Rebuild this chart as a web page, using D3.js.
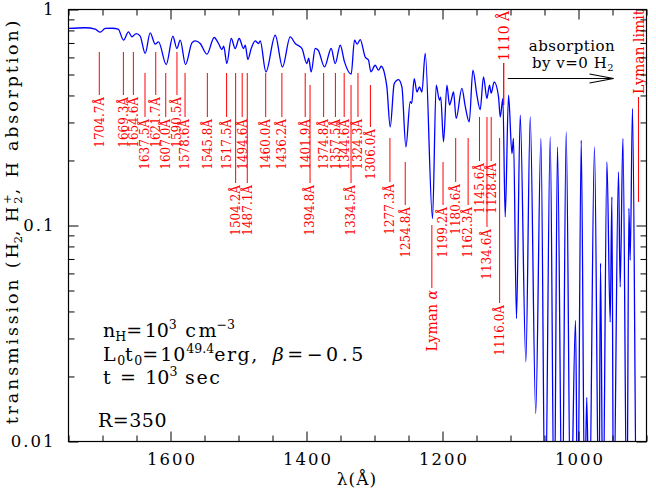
<!DOCTYPE html>
<html><head><meta charset="utf-8">
<script src="https://cdn.jsdelivr.net/npm/d3@7"></script>
<style>body{margin:0;background:#fff}svg{display:block}</style>
</head><body>
<svg id="chart" width="656" height="491"></svg>
<script>
// ---------------- data ----------------
const wavelengths = [1750,1725.4,1710.7,1703.4,1696,1685.7,1676.9,1669.1,1661.8,1656.8,1650.4,1644.6,1637.2,1629.9,1622.5,1617.6,1606.3,1596.5,1590.6,1585.7,1577.9,1568.5,1563.7,1556.3,1546.5,1535.7,1529.4,1524.4,1521.8,1517.1,1510.7,1504.9,1499,1492.6,1490.1,1486.2,1481.3,1475.4,1470.6,1468.1,1459.7,1446,1435.3,1424,1416.6,1406.8,1399.4,1396.8,1393.1,1387.2,1382.8,1373.5,1363.7,1357.8,1350.4,1344.1,1334.3,1329.4,1325.4,1321,1313.7,1308.8,1305.3,1299,1294.1,1290.1,1285.3,1281.8,1276.9,1271,1264.7,1259.7,1253.8,1247.5,1245.3,1241.6,1237.6,1233.8,1230.3,1225.4,1214.7,1209.3,1204.4,1202.6,1198.5,1193.5,1189.7,1187.2,1183.8,1179.9,1171.5,1166.6,1160.7,1155.3,1149.4,1144.6,1139.7,1134.7,1130.9,1128.4,1124,1117.6,1115.1,1111.2,1107.8,1102.9,1097.9,1095.6,1091.2,1085.7,1077.4,1071,1062.9,1055.3,1049,1041.6,1035.7,1030.9,1024,1018.1,1011.5,1004.4,1001.2,996,990.9,987.9,984.3,976.5,970,967.6,964.1,958.2,953.4,950.9,948.5,941.2,938.7,934.7,928.8,925.9,924,920.6,914.1,900];
const transmission = [0.817,0.823,0.811,0.785,0.817,0.819,0.811,0.721,0.788,0.747,0.774,0.752,0.626,0.779,0.691,0.708,0.556,0.752,0.660,0.721,0.556,0.700,0.715,0.696,0.621,0.742,0.696,0.653,0.676,0.562,0.734,0.660,0.734,0.660,0.683,0.587,0.660,0.715,0.696,0.715,0.514,0.760,0.542,0.747,0.696,0.660,0.562,0.595,0.514,0.660,0.648,0.542,0.660,0.562,0.683,0.572,0.502,0.721,0.691,0.726,0.603,0.582,0.514,0.552,0.524,0.546,0.506,0.438,0.286,0.454,0.474,0.438,0.231,0.374,0.368,0.479,0.415,0.438,0.415,0.626,0.1077,0.446,0.380,0.393,0.244,0.446,0.361,0.380,0.415,0.313,0.431,0.357,0.302,0.524,0.401,0.344,0.488,0.387,0.446,0.410,0.462,0.394,0.318,0.387,0.1096,0.401,0.2154,0.253,0.0371,0.324,0.0234,0.318,0.01348,0.253,0.004,0.257,0.004,0.231,0.004,0.271,0.004,0.0364,0.004,0.248,0.005,0.0160,0.004,0.231,0.004,0.0669,0.004,0.197,0.0357,0.1356,0.004,0.177,0.0520,0.253,0.004,0.120,0.0691,0.348,0.003,0.003];

// H2 absorption line identifications
const lineWavelengths = [1704.7,1669.3,1654.6,1637.5,1621.7,1607.0,1590.5,1578.6,1545.8,1517.5,1504.2,1494.6,1487.1,1460.0,1436.2,1401.9,1394.8,1374.8,1357.5,1344.6,1334.5,1324.3,1306.0,1277.3,1254.8,1199.2,1180.6,1162.3,1145.6,1134.6,1128.4,1116.0];
const lineLabels = lineWavelengths.map(v => v.toFixed(1) + "Å");
const lineTiers = ["a","a","a","b","a","b","a","b","b","b","c","b","c","b","b","b","d","b","b","b","d","b","e","f","g","g","f","h","i","j","i","k"];

const lymanAlpha = 1215.67;
const lymanLimit = 911.8;
const dissociationEdge = 1110;

const xMajorTicks = [1600,1400,1200,1000];
const xMinorTicks = [1750,1700,1650,1550,1500,1450,1350,1300,1250,1150,1100,1050,950,900];
const yMajorTicks = [1,0.1,0.01];
const yTickLabels = ["1","0.1","0.01"];
const yMinorTicks = [0.02,0.03,0.04,0.05,0.06,0.07,0.08,0.09,0.2,0.3,0.4,0.5,0.6,0.7,0.8,0.9];

// ---------------- layout ----------------
const L = 68.5, R = 646.5, T = 9.5, B = 441.5;
// vertical extents (pixels) of identification markers, per tier
const tierLayout = {a:[52,95],b:[73,117],c:[73,183],d:[85,183],e:[85,127],f:[138,182],
  g:[162,205],h:[138,205],i:[117,161],j:[117,227],k:[138,303],lya:[225,288],
  edge:[63,105],lim:[97,202]};
const FONT = "'DejaVu Serif', 'Liberation Serif', serif";
const RED = "#ff0000", BLUE = "#0000ff";

const svg = d3.select("#chart");
const x = d3.scaleLinear().domain([1750,900]).range([L,R]);
const y = d3.scaleLog().domain([0.01,1]).range([B,T]);

svg.append("defs").append("clipPath").attr("id","plotclip")
  .append("rect").attr("x",L).attr("y",T).attr("width",R-L).attr("height",B-T);

// ---------------- spectrum ----------------
const n = Math.min(wavelengths.length, transmission.length);
const pts = d3.range(n).map(i => [wavelengths[i], transmission[i]]);
const line = d3.line().x(d => x(d[0])).y(d => y(d[1])).curve(d3.curveMonotoneX);
svg.append("path").attr("clip-path","url(#plotclip)")
  .attr("d", line(pts)).attr("fill","none").attr("stroke",BLUE).attr("stroke-width",1.3)
  .attr("stroke-linejoin","round");

// ---------------- identification markers ----------------
const gl = svg.append("g");
lineWavelengths.forEach((w,i) => {
  const [y0,y1] = tierLayout[lineTiers[i]];
  const xp = x(w);
  gl.append("line").attr("x1",xp).attr("x2",xp).attr("y1",y0).attr("y2",y1)
    .attr("stroke",RED).attr("stroke-width",1);
  gl.append("text").attr("transform",`translate(${xp},${y1+2}) rotate(-90)`)
    .attr("text-anchor","end").attr("dy","0.36em")
    .attr("font-family",FONT).attr("font-size",12).attr("fill",RED).text(lineLabels[i]);
});
{
  const [y0,y1] = tierLayout.lya; const xp = x(lymanAlpha);
  gl.append("line").attr("x1",xp).attr("x2",xp).attr("y1",y0).attr("y2",y1).attr("stroke",RED);
  const t = gl.append("text").attr("transform",`translate(${xp},${y1+2}) rotate(-90)`)
    .attr("text-anchor","end").attr("dy","0.36em")
    .attr("font-family",FONT).attr("font-size",14).attr("fill",RED);
  t.append("tspan").text("Lyman\u00a0");
  t.append("tspan").attr("font-style","italic").text("α");
}
{
  const [y0,y1] = tierLayout.edge; const xp = x(dissociationEdge);
  gl.append("line").attr("x1",xp).attr("x2",xp).attr("y1",y0).attr("y2",y1).attr("stroke",RED).attr("stroke-width",1.3);
  gl.append("text").attr("transform",`translate(${xp},${y0-2}) rotate(-90)`)
    .attr("text-anchor","start").attr("dy","0.36em")
    .attr("font-family",FONT).attr("font-size",14).attr("fill",RED).text("1110 Å");
}
{
  const [y0,y1] = tierLayout.lim; const xp = x(lymanLimit);
  gl.append("line").attr("x1",xp).attr("x2",xp).attr("y1",y0).attr("y2",y1).attr("stroke",RED);
  gl.append("text").attr("transform",`translate(${xp},${y0-3}) rotate(-90)`)
    .attr("text-anchor","start").attr("dy","0.36em")
    .attr("font-family",FONT).attr("font-size",14).attr("fill",RED).text("Lyman limit");
}

// ---------------- axes ----------------
function styleAxis(g){ g.select(".domain").remove(); g.selectAll("line").attr("stroke","#000"); }
svg.append("g").attr("transform",`translate(0,${B})`)
  .call(d3.axisBottom(x).tickValues(xMinorTicks).tickSize(-6).tickFormat("")).call(styleAxis);
svg.append("g").attr("transform",`translate(0,${B})`)
  .call(d3.axisBottom(x).tickValues(xMajorTicks).tickSize(-10).tickPadding(12).tickFormat(d3.format("d")))
  .call(styleAxis)
  .call(g => g.selectAll("text").attr("font-family",FONT).attr("font-size",16.5)
     .attr("letter-spacing","2px").attr("fill","#000").attr("dx","1px"));
svg.append("g").attr("transform",`translate(0,${T})`)
  .call(d3.axisTop(x).tickValues(xMinorTicks).tickSize(-6).tickFormat("")).call(styleAxis);
svg.append("g").attr("transform",`translate(0,${T})`)
  .call(d3.axisTop(x).tickValues(xMajorTicks).tickSize(-10).tickFormat("")).call(styleAxis);

svg.append("g").attr("transform",`translate(${L},0)`)
  .call(d3.axisLeft(y).tickValues(yMinorTicks).tickSize(-6).tickFormat("")).call(styleAxis);
svg.append("g").attr("transform",`translate(${L},0)`)
  .call(d3.axisLeft(y).tickValues(yMajorTicks).tickSize(-10).tickPadding(13)
    .tickFormat((d,i) => yTickLabels[i]))
  .call(styleAxis)
  .call(g => g.selectAll("text").attr("font-family",FONT).attr("font-size",16.5)
     .attr("letter-spacing","2px").attr("fill","#000"));
svg.append("g").attr("transform",`translate(${R},0)`)
  .call(d3.axisRight(y).tickValues(yMinorTicks).tickSize(-6).tickFormat("")).call(styleAxis);
svg.append("g").attr("transform",`translate(${R},0)`)
  .call(d3.axisRight(y).tickValues(yMajorTicks).tickSize(-10).tickFormat("")).call(styleAxis);

svg.append("rect").attr("x",L).attr("y",T).attr("width",R-L).attr("height",B-T)
  .attr("fill","none").attr("stroke","#000").attr("stroke-width",1.2);

// ---------------- rich text helpers ----------------
// parts: [text, kind('n'|'sub'|'sup'|'i'), dx, letterSpacing (number or 'fit')]
function rich(sel, parts, base){
  let shift = 0;
  parts.forEach(p => {
    const [t,k,dx,ls] = p;
    const ts = sel.append("tspan").text(t);
    const target = k==="sub" ? base*0.22 : k==="sup" ? -base*0.4 : 0;
    if (target - shift !== 0) ts.attr("dy", target - shift);
    shift = target;
    if (k==="sub"||k==="sup") ts.attr("font-size", base*0.66);
    if (k==="i") ts.attr("font-style","italic");
    if (dx) ts.attr("dx", dx);
    if (ls === "fit") ts.classed("fit", true);
    else if (ls) ts.attr("letter-spacing", ls + "px");
  });
}
// widen the 'fit' segments so the whole text spans `target` pixels
function fitSpacing(sel, target){
  const nat = sel.node().getComputedTextLength();
  const fits = sel.selectAll("tspan.fit");
  let count = 0;
  if (fits.empty()) count = sel.text().length;
  else fits.each(function(){ count += this.textContent.length; });
  const ls = Math.max(0, (target - nat) / count);
  if (fits.empty()) sel.attr("letter-spacing", ls + "px");
  else fits.attr("letter-spacing", ls + "px");
}

// axis titles
{
  const t = svg.append("text").attr("transform","translate(18,221) rotate(-90)")
    .attr("text-anchor","middle").attr("font-family",FONT).attr("font-size",17.5).attr("fill","#000");
  rich(t, [["transmission (","n",0,"fit"],["H","n"],["2","sub"],[",","n"],[" H","n",0,"fit"],["2","sub"],["+","sup",-7.5],[", H absorption)","n",0,"fit"]], 17.5);
  fitSpacing(t, 414);
}
svg.append("text").attr("x",357).attr("y",485).attr("text-anchor","middle")
  .attr("font-family",FONT).attr("font-size",17).attr("letter-spacing","1px").text("λ(Å)");

// annotations
{
  const t1 = svg.append("text").attr("x",103).attr("y",337).attr("font-family",FONT).attr("font-size",19);
  rich(t1, [["n"],["H","sub"],["=","n",0,"fit"],["10"],["3","sup"],[" c","n",0,"fit"],["m"],["−3","sup"]], 19);
  fitSpacing(t1, 132);
  const t2 = svg.append("text").attr("x",103).attr("y",361).attr("font-family",FONT).attr("font-size",19);
  rich(t2, [["L","n",0,1.5],["0","sub"],["t","n",0,1.5],["0","sub"],["=","n",0,2],["10","n",0,1],["49.4","sup"],["erg,","n",0,1.5],
            ["β","i",14,3.5],["=−0.","n",0,3.5],["5"]], 19);
  const t3 = svg.append("text").attr("x",103).attr("y",384).attr("font-family",FONT).attr("font-size",19);
  rich(t3, [["t = ","n",0,"fit"],["10"],["3","sup"],[" se","n",0,"fit"],["c"]], 19);
  fitSpacing(t3, 117);
  const t4 = svg.append("text").attr("x",98).attr("y",427).attr("font-family",FONT).attr("font-size",19).text("R=350");
  fitSpacing(t4, 69);
}

// arrow annotation
{
  svg.append("text").attr("x",572).attr("y",51).attr("text-anchor","middle")
    .attr("font-family",FONT).attr("font-size",15).attr("letter-spacing","0.5px").text("absorption");
  const t = svg.append("text").attr("x",573).attr("y",68).attr("text-anchor","middle")
    .attr("font-family",FONT).attr("font-size",15).attr("letter-spacing","0.5px");
  rich(t, [["by v=0 H"],["2","sub"]], 15);
  const ay = 78.5, ax0 = x(1104), ax1 = x(948.5);
  svg.append("line").attr("x1",ax0).attr("x2",ax1).attr("y1",ay).attr("y2",ay).attr("stroke","#000").attr("stroke-width",1.2);
  svg.append("path").attr("d",`M${ax1-24},${ay-4.5}L${ax1},${ay}L${ax1-24},${ay+4.5}`)
    .attr("fill","none").attr("stroke","#000").attr("stroke-width",1.2);
}
</script>
</body></html>
